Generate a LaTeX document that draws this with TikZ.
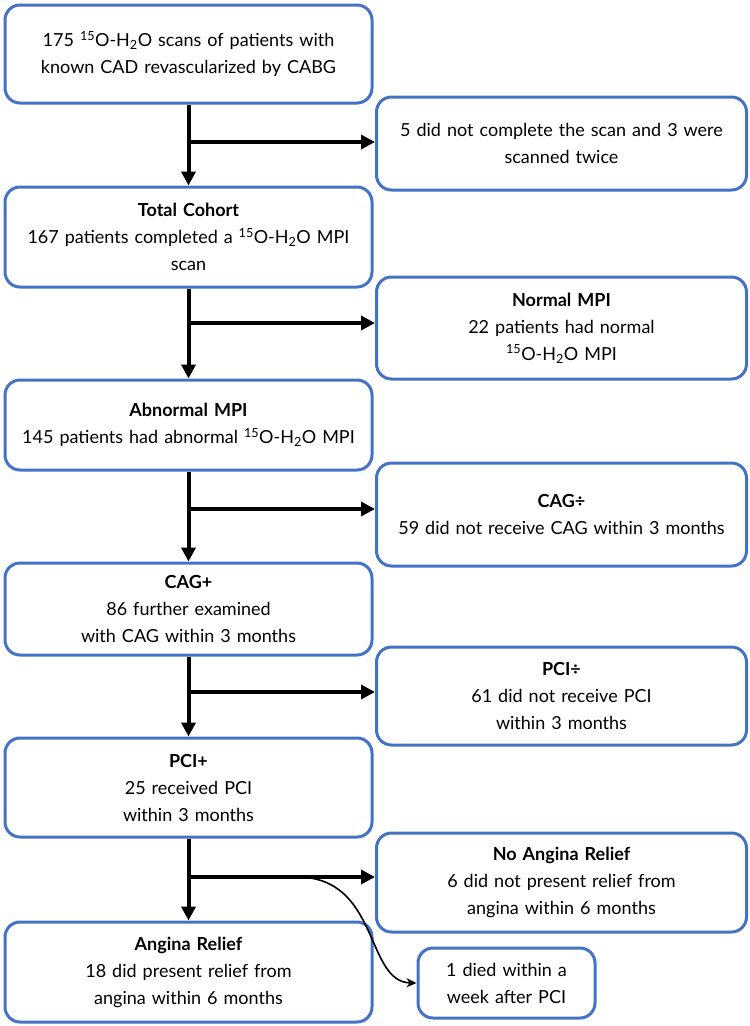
\documentclass[tikz,border=0pt]{standalone}
\usepackage{fontspec}
\setmainfont{Lato}
\usetikzlibrary{arrows.meta,positioning,calc}
\definecolor{FlowBlue}{HTML}{4472C4}
\newcommand{\oxwater}{\textsuperscript{15}O-H\textsubscript{2}O}

\begin{document}
\begin{tikzpicture}[x=1pt,y=-1pt,
  card/.style={rounded corners=15pt, fill=white, draw=FlowBlue, line width=3pt,
               align=center, inner sep=4pt, font=\fontsize{18}{27}\selectfont},
  lcard/.style={card, minimum width=367pt, text width=355pt},
  rcard/.style={card, minimum width=370pt, text width=358pt},
  flow/.style={line width=4pt, -{Triangle[length=14pt,width=14pt]}},
  curvearr/.style={line width=1.6pt, -{Stealth[length=10pt,width=9pt]}}]
  \useasboundingbox (0,0) rectangle (750,1026);
  \node[lcard, minimum height=98pt] (b1) at (188.5,54)
    {175 \oxwater{} scans of patients with\\known CAD revascularized by CABG};
  \node[rcard, minimum height=93pt] (r1) at (561.5,143.5)
    {5 did not complete the scan and 3 were\\scanned twice};
  \node[lcard, minimum height=100pt] (b2) at (188.5,237)
    {\textbf{Total Cohort}\\167 patients completed a \oxwater{} MPI\\scan};
  \node[rcard, minimum height=102pt] (r2) at (561.5,328)
    {\textbf{Normal MPI}\\22 patients had normal\\\oxwater{} MPI};
  \node[lcard, minimum height=90pt] (b3) at (188.5,425)
    {\textbf{Abnormal MPI}\\145 patients had abnormal \oxwater{} MPI};
  \node[rcard, minimum height=103pt] (r3) at (561.5,514.5)
    {\textbf{CAG÷}\\59 did not receive CAG within 3 months};
  \node[lcard, minimum height=92pt] (b4) at (188.5,609)
    {\textbf{CAG+}\\86 further examined\\with CAG within 3 months};
  \node[rcard, minimum height=98pt] (r4) at (561.5,696)
    {\textbf{PCI÷}\\61 did not receive PCI\\within 3 months};
  \node[lcard, minimum height=99pt] (b5) at (188.5,787.5)
    {\textbf{PCI+}\\25 received PCI\\within 3 months};
  \node[rcard, minimum height=99pt] (r5) at (561.5,882.5)
    {\textbf{No Angina Relief}\\6 did not present relief from\\angina within 6 months};
  \node[lcard, minimum height=100pt] (b6) at (188.5,972)
    {\textbf{Angina Relief}\\18 did present relief from\\angina within 6 months};
  \node[card, minimum width=177pt, minimum height=70pt, text width=165pt] (d1) at (506.5,983)
    {1 died within a\\week after PCI};
  \coordinate (j1) at (188.5,142);
  \coordinate (j2) at (188.5,323);
  \coordinate (j3) at (188.5,509);
  \coordinate (j4) at (188.5,692);
  \coordinate (j5) at (188.5,877);
  \coordinate (c5) at (297,877);
  \draw[flow] (b1.south) -- (b2.north);
  \draw[flow] (b2.south) -- (b3.north);
  \draw[flow] (b3.south) -- (b4.north);
  \draw[flow] (b4.south) -- (b5.north);
  \draw[flow] (b5.south) -- (b6.north);
  \draw[flow] (j1) -- (j1 -| r1.west);
  \draw[flow] (j2) -- (j2 -| r2.west);
  \draw[flow] (j3) -- (j3 -| r3.west);
  \draw[flow] (j4) -- (j4 -| r4.west);
  \draw[flow] (j5) -- (j5 -| r5.west);
  \draw[curvearr] (c5) .. controls (380,877) and (365,982) .. (d1.west);
\end{tikzpicture}
\end{document}
